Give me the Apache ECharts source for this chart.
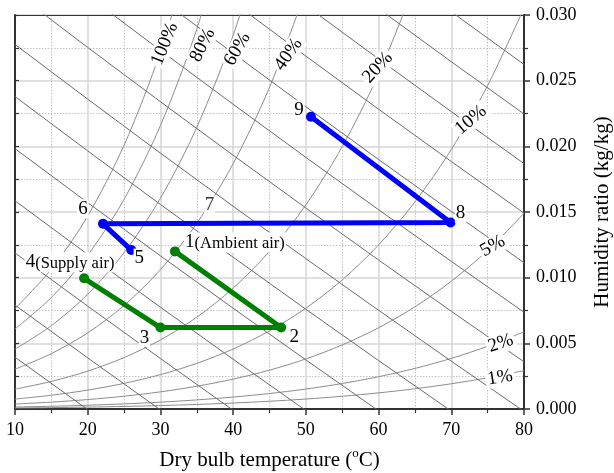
<!DOCTYPE html>
<html><head><meta charset="utf-8">
<script src="https://cdn.jsdelivr.net/npm/echarts@6/dist/echarts.min.js"></script>
<style>html,body{margin:0;padding:0;background:#fff}#c{width:614px;height:473px}</style>
</head><body><div id="c"></div>
<script>
// ---- data ----
const rhTemps = [10,15,20,25,30,35,40,45,50,55,60,65,70,75,80];
const rh100 = [0.007632,0.010650,0.014699,0.020087,0.027211,0.036587];
const rh80  = [0.006091,0.008491,0.011704,0.015966,0.021580,0.028929,0.038513];
const rh60  = [0.004557,0.006347,0.008737,0.011898,0.016046,0.021448,0.028445,0.037470];
const rh40  = [0.003031,0.004217,0.005797,0.007882,0.010606,0.014136,0.018678,0.024489,0.031884];
const rh20  = [0.001512,0.002101,0.002885,0.003916,0.005258,0.006989,0.009201,0.012008,0.015544,0.019974,0.025493,0.032345];
const rh10  = [0.000755,0.001049,0.001439,0.001952,0.002618,0.003475,0.004567,0.005947,0.007676,0.009829,0.012491,0.015763,0.019762,0.024632,0.030536];
const rh5   = [0.000377,0.000524,0.000719,0.000974,0.001306,0.001733,0.002275,0.002959,0.003814,0.004876,0.006183,0.007783,0.009727,0.012077,0.014902];
const rh2   = [0.000151,0.000209,0.000287,0.000389,0.000522,0.000692,0.000908,0.001180,0.001520,0.001941,0.002459,0.003090,0.003855,0.004775,0.005876];
const rh1   = [0.000075,0.000105,0.000144,0.000195,0.000261,0.000346,0.000454,0.000590,0.000759,0.000969,0.001227,0.001541,0.001921,0.002378,0.002924];
const rhCurves = [rh100, rh80, rh60, rh40, rh20, rh10, rh5, rh2, rh1];

const rhNames = ['100%','80%','60%','40%','20%','10%','5%','2%','1%'];
const rhLabelT = [30.6, 35.8, 40.6, 47.6, 59.9, 72.7, 75.7, 76.8, 76.7];
const rhLabelW = [0.0278, 0.0277, 0.0274, 0.0270, 0.0260, 0.0220, 0.0124, 0.0050, 0.0024];
const rhLabelAngle = [68, 63, 60, 55, 47, 40, 30, 18, 9];

// constant-enthalpy lines (kJ/kg), humidity ratio at dry-bulb temps below
const hTemps = [10,20,30,40,50,60,70,80];
const h20  = [0.003945,-0.000047,null,null,null,null,null,null];
const h30  = [0.007914,0.003893,-0.000070,null,null,null,null,null];
const h40  = [0.011882,0.007833,0.003841,-0.000093,null,null,null,null];
const h50  = [0.015851,0.011772,0.007752,0.003790,-0.000116,null,null,null];
const h60  = [0.019820,0.015712,0.011663,0.007673,0.003739,-0.000138,null,null];
const h70  = [0.023789,0.019652,0.015574,0.011556,0.007594,0.003690,-0.000160,null];
const h80  = [0.027758,0.023592,0.019485,0.015438,0.011449,0.007517,0.003641,-0.000181];
const h90  = [0.031727,0.027531,0.023396,0.019321,0.015305,0.011345,0.007442,0.003593];
const h100 = [0.035696,0.031471,0.027308,0.023204,0.019160,0.015173,0.011242,0.007367];
const h110 = [null,0.035411,0.031219,0.027087,0.023015,0.019000,0.015043,0.011141];
const h120 = [null,null,0.035130,0.030970,0.026870,0.022828,0.018844,0.014915];
const h130 = [null,null,null,0.034853,0.030725,0.026655,0.022644,0.018688];
const h140 = [null,null,null,null,0.034580,0.030483,0.026445,0.022462];
const h150 = [null,null,null,null,null,0.034311,0.030245,0.026236];
const h160 = [null,null,null,null,null,null,0.034045,0.030010];
const hLines = [h20,h30,h40,h50,h60,h70,h80,h90,h100,h110,h120,h130,h140,h150,h160];

// process states
const blueT = [26.0, 22.1, 69.9, 50.7];
const blueW = [0.0121, 0.0141, 0.0142, 0.02225];
const blueNames = ['5','6','8','9'];
const greenT = [19.5, 30.0, 46.6, 32.0];
const greenW = [0.00995, 0.0062, 0.0062, 0.0120];
const greenNames = ['4','3','2','1'];
const greenNotes = ['(Supply air)','','','(Ambient air)'];
const midLabelT = [36.75];
const midLabelW = [0.0155];
const midLabelNames = ['7'];

const xTicks = [10,20,30,40,50,60,70,80];
const yTicks = [0,0.005,0.010,0.015,0.020,0.025,0.030];

// ---- styles ----
const FONT = '"Liberation Serif","Times New Roman",serif';
const labelBase = {show:true, position:'inside', fontFamily:FONT, fontSize:19, color:'#000',
  backgroundColor:'#fff', padding:[0,1], rich:{
    n:{fontFamily:FONT, fontSize:19, color:'#000'},
    s:{fontFamily:FONT, fontSize:16.5, color:'#000', padding:[3,0,0,0]}
  }};
const blueOffsets = [[8,8],[-20,-15],[10,-9],[-12,-7]];
const greenOffsets = [[-14,-16],[-16,10],[13,9],[60,-9]];

const series = [];
rhCurves.forEach(c => {
  series.push({type:'line', data:c.map((w,i)=>[rhTemps[i], w]), smooth:0.3,
    symbol:'none', silent:true, lineStyle:{color:'#8c8c8c', width:1}, z:2});
});
hLines.forEach(c => {
  const d = [];
  c.forEach((w,i)=>{ if (w !== null) d.push([hTemps[i], w]); });
  series.push({type:'line', data:d, symbol:'none', silent:true, lineStyle:{color:'#6a6a6a', width:1}, z:2});
});
series.push({type:'scatter', symbolSize:0, silent:true, z:6,
  data: rhNames.map((n,i)=>({value:[rhLabelT[i], rhLabelW[i]],
    label:{show:true, formatter:n, rotate:rhLabelAngle[i], position:'inside', fontFamily:FONT, fontSize:19,
      color:'#000', opacity:1, backgroundColor:'#fff', padding:[0,2]}}))});
function proc(T, W, names, notes, offsets, color) {
  return {type:'line', z:5, data: T.map((t,i)=>({value:[t, W[i]],
      label:Object.assign({}, labelBase, {offset:offsets[i],
        formatter: notes && notes[i] ? '{n|'+names[i]+'}{s|'+notes[i]+'}' : names[i]})})),
    symbol:'circle', symbolSize:10, lineStyle:{color:color, width:5}, itemStyle:{color:color},
    label:labelBase};
}
series.push(proc(blueT, blueW, blueNames, null, blueOffsets, '#0000ff'));
series.push(proc(greenT, greenW, greenNames, greenNotes, greenOffsets, '#008000'));
series.push({type:'scatter', symbolSize:0, silent:true, z:6,
  data: midLabelT.map((t,i)=>({value:[t, midLabelW[i]],
    label:Object.assign({}, labelBase, {formatter:midLabelNames[i]})}))});

const option = {
  animation:false,
  backgroundColor:'#fff',
  grid:{left:15, right:90, top:15, bottom:64, containLabel:false, outerBoundsMode:'none'},
  xAxis:[{
    type:'value', min:xTicks[0], max:xTicks[xTicks.length-1], interval:10, position:'bottom',
    name:'Dry bulb temperature ({sup|o}C)', nameLocation:'middle', nameGap:38,
    nameTextStyle:{fontFamily:FONT, fontSize:21, color:'#000',
      rich:{sup:{fontFamily:FONT, fontSize:13, color:'#000', padding:[0,0,14,0]}}},
    axisLine:{show:true, onZero:false, lineStyle:{color:'#333', width:2}},
    axisTick:{show:true, inside:false, length:6, lineStyle:{color:'#333', width:1.5}},
    minorTick:{show:true, splitNumber:2, length:4, lineStyle:{color:'#333', width:1.2}},
    axisLabel:{fontFamily:FONT, fontSize:18, color:'#000', margin:12},
    splitLine:{show:true, lineStyle:{color:'#d6d6d6', width:1.5}},
    minorSplitLine:{show:true, lineStyle:{color:'#c4c4c4', width:1, type:[1.5,1.5]}}
  },{
    type:'value', min:10, max:80, position:'top',
    axisLine:{show:true, onZero:false, lineStyle:{color:'#333', width:1}},
    axisTick:{show:false}, axisLabel:{show:false}, splitLine:{show:false}
  }],
  yAxis:[{
    type:'value', min:yTicks[0], max:yTicks[yTicks.length-1], interval:0.005, position:'right',
    name:'Humidity ratio (kg/kg)', nameLocation:'middle', nameGap:68, nameRotate:90,
    nameTextStyle:{fontFamily:FONT, fontSize:21, color:'#000'},
    axisLine:{show:true, onZero:false, lineStyle:{color:'#333', width:2}},
    axisTick:{show:true, inside:false, length:6, lineStyle:{color:'#333', width:1.5}},
    minorTick:{show:true, splitNumber:2, length:4, lineStyle:{color:'#333', width:1.2}},
    axisLabel:{fontFamily:FONT, fontSize:18, color:'#000', margin:12, formatter:v=>v.toFixed(3)},
    splitLine:{show:true, lineStyle:{color:'#d6d6d6', width:1.5}},
    minorSplitLine:{show:true, lineStyle:{color:'#c4c4c4', width:1, type:[1.5,1.5]}}
  },{
    type:'value', min:0, max:0.03, interval:0.0025, position:'left',
    axisLine:{show:true, onZero:false, lineStyle:{color:'#333', width:2}},
    axisTick:{show:true, inside:true, length:4, lineStyle:{color:'#333', width:1.2}},
    axisLabel:{show:false}, splitLine:{show:false}
  }],
  series: series
};
echarts.init(document.getElementById('c'), null, {renderer:'canvas'}).setOption(option);
</script></body></html>
